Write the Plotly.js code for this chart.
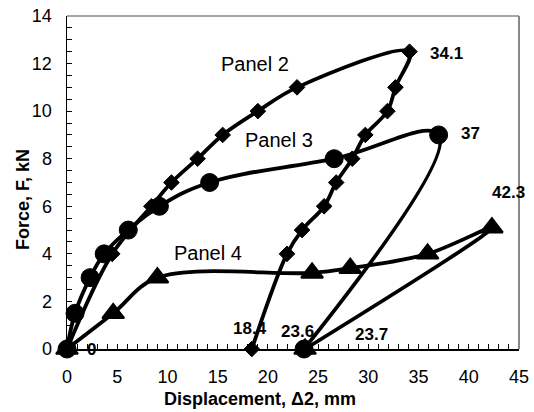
<!DOCTYPE html>
<html>
<head>
<meta charset="utf-8">
<script src="https://cdn.plot.ly/plotly-3.0.1.min.js"></script>
<style>html,body{margin:0;padding:0;background:#fff;}#chart{width:534px;height:412px;}</style>
</head>
<body>
<div id="chart"></div>
<script>
// Panel 2 (diamonds)
var panel2X = [0, 4.5, 8.4, 10.4, 13, 15.5, 19, 22.9, 34.1, 32.7, 31.9, 29.7, 28.4, 26.8, 25.6, 23.4, 21.9, 18.4];
var panel2Y = [0, 4, 6, 7, 8, 9, 10, 11, 12.5, 11, 10, 9, 8, 7, 6, 5, 4, 0];
// Panel 3 (circles)
var panel3X = [0, 0.8, 2.3, 3.7, 6.1, 9.2, 14.2, 26.6, 37, 23.6];
var panel3Y = [0, 1.5, 3, 4, 5, 6, 7, 8, 9, 0];
// Panel 4 (triangles)
var panel4X = [0, 4.6, 9.0, 24.4, 28.2, 35.9, 42.3, 23.7];
var panel4Y = [0, 1.5, 3.0, 3.2, 3.4, 4.0, 5.1, 0];

// Value labels
var valueLabelText = ["0", "18.4", "23.6", "23.7", "34.1", "37", "42.3"];
var valueLabelX = [2.4, 18.2, 22.9, 30.3, 37.8, 40.15, 44.0];
var valueLabelY = [0, 0.88, 0.73, 0.59, 12.42, 9.06, 6.58];

// Series names
var panelText = ["Panel 2", "Panel 3", "Panel 4"];
var panelTextX = [18.7, 21.1, 14.0];
var panelTextY = [12.0, 8.78, 4.05];

// Axis titles
var xTitle = "Displacement, Δ2, mm";
var yTitle = "Force, F, kN";

var FONT = "Liberation Sans, Arial, sans-serif";

function series(x, y, sym, size, lw, smooth, name) {
  return {
    x: x, y: y, name: name, type: "scatter", mode: "lines+markers",
    cliponaxis: false,
    line: {color: "#000", width: 3.8, shape: "spline", smoothing: smooth},
    marker: {symbol: sym, size: size, color: "#000", line: {color: "#000", width: lw}}
  };
}

var data = [
  series(panel4X, panel4Y, "triangle-up", 19, 2, 1, "Panel 4"),
  series(panel3X, panel3Y, "circle", 18, 1, 1.15, "Panel 3"),
  series(panel2X, panel2Y, "diamond", 12, 1, 1, "Panel 2")
];

var L = 67, R = 15, T = 16, B = 63, W = 534, H = 412;
var pw = W - L - R, ph = H - T - B;

var annotations = [];
for (var i = 0; i < valueLabelText.length; i++) {
  annotations.push({x: valueLabelX[i], y: valueLabelY[i], xref: "x", yref: "y",
    xanchor: "center", yanchor: "middle",
    text: "<b>" + valueLabelText[i] + "</b>", showarrow: false,
    font: {family: FONT, size: 17, color: "#000"}});
}
for (var j = 0; j < panelText.length; j++) {
  annotations.push({x: panelTextX[j], y: panelTextY[j], xref: "x", yref: "y",
    xanchor: "center", yanchor: "middle",
    text: panelText[j], showarrow: false,
    font: {family: FONT, size: 20, color: "#000"}});
}
// axis titles placed to match the reference position (pixel -> paper fraction)
annotations.push({x: (260 - L) / pw, y: (H - B - 399) / ph, xref: "paper", yref: "paper",
  xanchor: "center", yanchor: "middle",
  text: "<b>" + xTitle + "</b>", showarrow: false, font: {family: FONT, size: 18, color: "#000"}});
annotations.push({x: (23 - L) / pw, y: (H - B - 200) / ph, xref: "paper", yref: "paper",
  xanchor: "center", yanchor: "middle",
  text: "<b>" + yTitle + "</b>", textangle: -90, showarrow: false, font: {family: FONT, size: 18, color: "#000"}});

var layout = {
  width: W, height: H,
  margin: {l: L, r: R, t: T, b: B},
  paper_bgcolor: "#fff", plot_bgcolor: "#fff",
  showlegend: false,
  font: {family: FONT, size: 18, color: "#000"},
  xaxis: {
    range: [0, 45], dtick: 5, tick0: 0,
    showgrid: false, zeroline: false,
    showline: true, linecolor: "#000", linewidth: 1.5,
    ticks: "inside", ticklen: 5, tickcolor: "#000", tickwidth: 1,
    ticklabelstandoff: 11,
    minor: {dtick: 1, ticks: "inside", ticklen: 5, tickcolor: "#000", tickwidth: 1, showgrid: false},
    tickfont: {family: FONT, size: 18, color: "#000"}
  },
  yaxis: {
    range: [0, 14], dtick: 2, tick0: 0,
    showgrid: false, zeroline: false,
    showline: true, linecolor: "#000", linewidth: 1.5,
    ticks: "inside", ticklen: 5, tickcolor: "#000", tickwidth: 1,
    ticklabelstandoff: 10,
    minor: {dtick: 0.5, ticks: "inside", ticklen: 5, tickcolor: "#000", tickwidth: 1, showgrid: false},
    tickfont: {family: FONT, size: 18, color: "#000"}
  },
  shapes: [
    {type: "line", xref: "paper", yref: "paper", x0: 0, x1: 1, y0: 1, y1: 1, line: {color: "#888", width: 1.5}, layer: "below"},
    {type: "line", xref: "paper", yref: "paper", x0: 1, x1: 1, y0: 0, y1: 1, line: {color: "#888", width: 2}, layer: "below"}
  ],
  annotations: annotations
};

Plotly.newPlot("chart", data, layout, {displayModeBar: false, staticPlot: true});
</script>
</body>
</html>
